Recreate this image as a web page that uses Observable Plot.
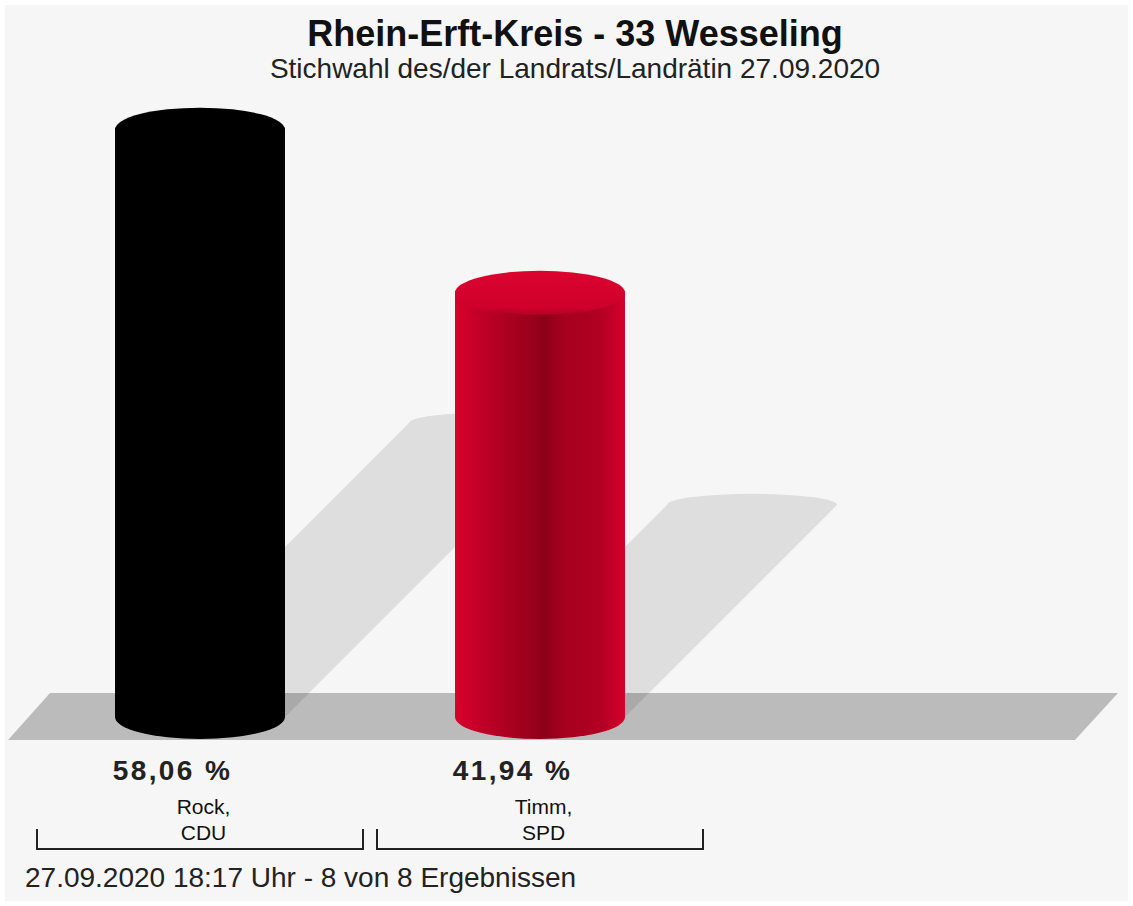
<!DOCTYPE html>
<html><head><meta charset="utf-8">
<script src="https://cdn.jsdelivr.net/npm/d3@7"></script>
<script src="https://cdn.jsdelivr.net/npm/@observablehq/plot@0.6"></script>
<style>
html,body{margin:0;padding:0;background:#fff;}
#wrap{position:relative;width:1133px;height:906px;background:#fff;overflow:hidden;font-family:"Liberation Sans",Arial,Helvetica,sans-serif;}
#panel{position:absolute;left:5px;top:5px;width:1123px;height:896px;background:#f6f6f6;}
#title{position:absolute;left:0;width:1150px;top:16px;text-align:center;font-weight:bold;font-size:36px;line-height:1;color:#111;}
#subtitle{position:absolute;left:0;width:1150px;top:55px;text-align:center;font-size:28px;line-height:1;color:#222;}
#chart{position:absolute;left:0;top:95px;}
#footer{position:absolute;left:25px;top:864px;font-size:28px;line-height:1;color:#222;}
</style></head>
<body><div id="wrap"><div id="panel"></div>
<div id="title"></div><div id="subtitle"></div><div id="chart"></div><div id="footer"></div></div>
<script>
const titleText = "Rhein-Erft-Kreis - 33 Wesseling";
const subtitleText = "Stichwahl des/der Landrats/Landrätin 27.09.2020";
const footerText = "27.09.2020 18:17 Uhr - 8 von 8 Ergebnissen";
const candidates = ["Rock,\nCDU", "Timm,\nSPD"];
const shares = [58.06, 41.94];
const shareLabels = ["58,06 %", "41,94 %"];
const fillKeys = ["black", "red"];

document.getElementById("title").textContent = titleText;
document.getElementById("subtitle").textContent = subtitleText;
document.getElementById("footer").textContent = footerText;

const rows = candidates.map((c, i) => ({slot: i, name: c, share: shares[i], label: shareLabels[i], key: fillKeys[i]}));

const W = 1133, H = 765;
const RY = 22;

function svgEl(tag) { return document.createElementNS("http://www.w3.org/2000/svg", tag); }

const defsMark = () => {
  const g = svgEl("defs");
  g.innerHTML = `
  <linearGradient id="gbody-red" x1="0" x2="1" y1="0" y2="0">
    <stop offset="0" stop-color="#d6002c"/>
    <stop offset="0.12" stop-color="#c70028"/>
    <stop offset="0.3" stop-color="#ad0021"/>
    <stop offset="0.47" stop-color="#96001a"/>
    <stop offset="0.53" stop-color="#8c0017"/>
    <stop offset="0.65" stop-color="#a8001f"/>
    <stop offset="0.85" stop-color="#b10022"/>
    <stop offset="1" stop-color="#d4002b"/>
  </linearGradient>
  <linearGradient id="gtop-red" x1="0" x2="0" y1="0" y2="1">
    <stop offset="0" stop-color="#da0530"/>
    <stop offset="0.8" stop-color="#d0002b"/>
    <stop offset="1" stop-color="#b80024"/>
  </linearGradient>
  <linearGradient id="gbody-black" x1="0" x2="1"><stop offset="0" stop-color="#000"/><stop offset="1" stop-color="#000"/></linearGradient>
  <linearGradient id="gtop-black" x1="0" x2="1"><stop offset="0" stop-color="#000"/><stop offset="1" stop-color="#000"/></linearGradient>`;
  return g;
};

const floorMark = (index, scales) => {
  const {x, y} = scales;
  const yb = y(0);
  const xl = x(0) + 20, xr = x(3.2);
  const p = svgEl("path");
  p.setAttribute("d", `M${xl},${yb - 24} L${xr},${yb - 24} L${xr - 43},${yb + 23} L${xl - 42},${yb + 23} Z`);
  p.setAttribute("fill", "#bbbbbb");
  return p;
};

const shadowMark = (index, scales) => {
  const {x, y} = scales;
  const g = svgEl("g");
  for (const r of rows) {
    const xL = x(r.slot + 0.25), xR = x(r.slot + 0.75);
    const yb = y(0), yt = y(r.share);
    const s = (yb - yt) / 2;
    const p = svgEl("path");
    p.setAttribute("d", `M${xL},${yb} L${xL + s},${yb - s} A${(xR - xL) / 2},${RY / 2} 0 0 1 ${xR + s},${yb - s} L${xR},${yb} Z`);
    p.setAttribute("fill", "#000");
    p.setAttribute("fill-opacity", "0.095");
    g.appendChild(p);
  }
  return g;
};

const capsMark = (index, scales) => {
  const {x, y} = scales;
  const g = svgEl("g");
  for (const r of rows) {
    const xL = x(r.slot + 0.25), xR = x(r.slot + 0.75);
    const yb = y(0), yt = y(r.share);
    const bottom = svgEl("path");
    bottom.setAttribute("d", `M${xL},${yb - 1} L${xL},${yb} A${(xR - xL) / 2},${RY} 0 0 0 ${xR},${yb} L${xR},${yb - 1} Z`);
    bottom.setAttribute("fill", `url(#gbody-${r.key})`);
    g.appendChild(bottom);
    const top = svgEl("ellipse");
    top.setAttribute("cx", (xL + xR) / 2);
    top.setAttribute("cy", yt);
    top.setAttribute("rx", (xR - xL) / 2);
    top.setAttribute("ry", RY);
    top.setAttribute("fill", `url(#gtop-${r.key})`);
    g.appendChild(top);
  }
  return g;
};

const bracketMark = (index, scales) => {
  const {x, y} = scales;
  const g = svgEl("g");
  const yb = y(0);
  for (const r of rows) {
    const p = svgEl("path");
    p.setAttribute("d", `M${x(r.slot) + 7},${yb + 112} V${yb + 132} H${x(r.slot + 1) - 7} V${yb + 112}`);
    p.setAttribute("fill", "none");
    p.setAttribute("stroke", "#222");
    p.setAttribute("stroke-width", "2");
    g.appendChild(p);
  }
  return g;
};

const chart = Plot.plot({
  width: W,
  height: H,
  marginLeft: 30,
  marginRight: 15,
  marginTop: 15,
  marginBottom: 143,
  style: {background: "transparent", overflow: "visible", fontFamily: "'Liberation Sans', Arial, sans-serif"},
  x: {domain: [0, 3.2], axis: null},
  y: {domain: [0, 60], axis: null},
  marks: [
    defsMark,
    floorMark,
    shadowMark,
    ...rows.map(r => Plot.rect([r], {x1: d => d.slot + 0.25, x2: d => d.slot + 0.75, y1: 0, y2: "share", fill: `url(#gbody-${r.key})`})),
    capsMark,
    Plot.text(rows, {x: d => d.slot + 0.5, text: "label", frameAnchor: "bottom", dy: 62, dx: -28, fontSize: 28, fontWeight: "bold", fill: "#222"}),
    Plot.text(rows, {x: d => d.slot + 0.5, text: "name", frameAnchor: "bottom", dy: 122, dx: 3, fontSize: 21, lineHeight: 1.2, fill: "#111"}),
    bracketMark
  ]
});
// widen the bold percentage labels slightly, as in the reference
d3.select(chart).selectAll("text").filter(function() { return this.textContent.includes("%"); })
  .attr("letter-spacing", "2.4px");
document.getElementById("chart").appendChild(chart);
</script>
</body></html>
